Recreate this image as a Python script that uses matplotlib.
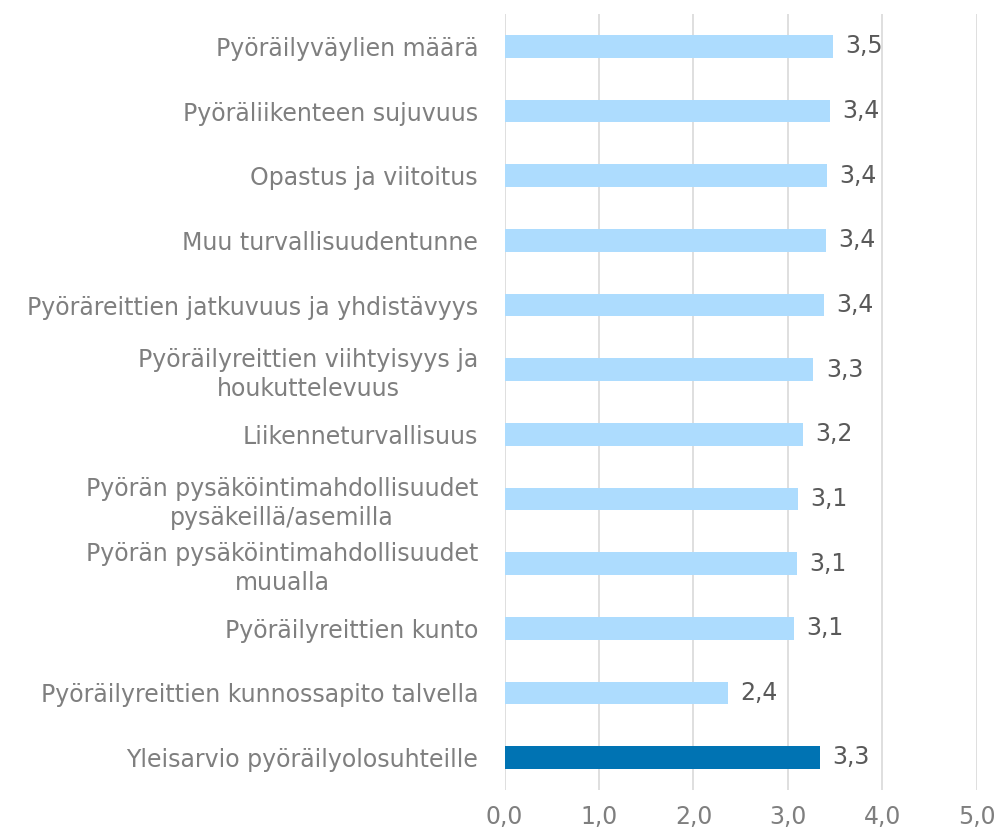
import matplotlib.pyplot as plt

plt.rcParams['font.family'] = ['DejaVu Sans']

# Kategoriat ylhäältä alas
categories = [
    'Pyöräilyväylien määrä',
    'Pyöräliikenteen sujuvuus',
    'Opastus ja viitoitus',
    'Muu turvallisuudentunne',
    'Pyöräreittien jatkuvuus ja yhdistävyys',
    'Pyöräilyreittien viihtyisyys ja\nhoukuttelevuus',
    'Liikenneturvallisuus',
    'Pyörän pysäköintimahdollisuudet\npysäkeillä/asemilla',
    'Pyörän pysäköintimahdollisuudet\nmuualla',
    'Pyöräilyreittien kunto',
    'Pyöräilyreittien kunnossapito talvella',
    'Yleisarvio pyöräilyolosuhteille',
]
values = [3.48, 3.44, 3.41, 3.40, 3.38, 3.27, 3.16, 3.11, 3.10, 3.06, 2.36, 3.34]
value_labels = ['3,5', '3,4', '3,4', '3,4', '3,4', '3,3', '3,2', '3,1', '3,1', '3,1', '2,4', '3,3']
xticks = [0, 1, 2, 3, 4, 5]
xtick_labels = ['0,0', '1,0', '2,0', '3,0', '4,0', '5,0']

light = '#ADDCFE'
dark = '#0073B3'
colors = [light] * (len(categories) - 1) + [dark]

fig = plt.figure(figsize=(10.02, 8.34), dpi=100)
ax = fig.add_axes([0.5035, 0.053, 0.4715, 0.930])

y = list(range(len(categories)))
ax.barh(y, values, height=0.35, color=colors, zorder=2)

for yi, v, lab in zip(y, values, value_labels):
    ax.text(v + 0.13, yi, lab, va='center', ha='left', fontsize=17, color='#595959')

ax.set_xlim(0, 5)
ax.set_ylim(len(categories) - 0.5, -0.5)
ax.set_xticks(xticks)
ax.set_xticklabels(xtick_labels, fontsize=17, color='#7F7F7F')
ax.set_yticks(y)
ax.set_yticklabels(categories, fontsize=17, color='#7F7F7F',
                   multialignment='center', linespacing=1.25)
ax.tick_params(axis='both', length=0)
ax.tick_params(axis='y', pad=19)
ax.tick_params(axis='x', pad=11)

ax.grid(axis='x', color='#D9D9D9', linewidth=1.2, zorder=0)
for s in ax.spines.values():
    s.set_visible(False)

plt.savefig('out.png', dpi=100)
